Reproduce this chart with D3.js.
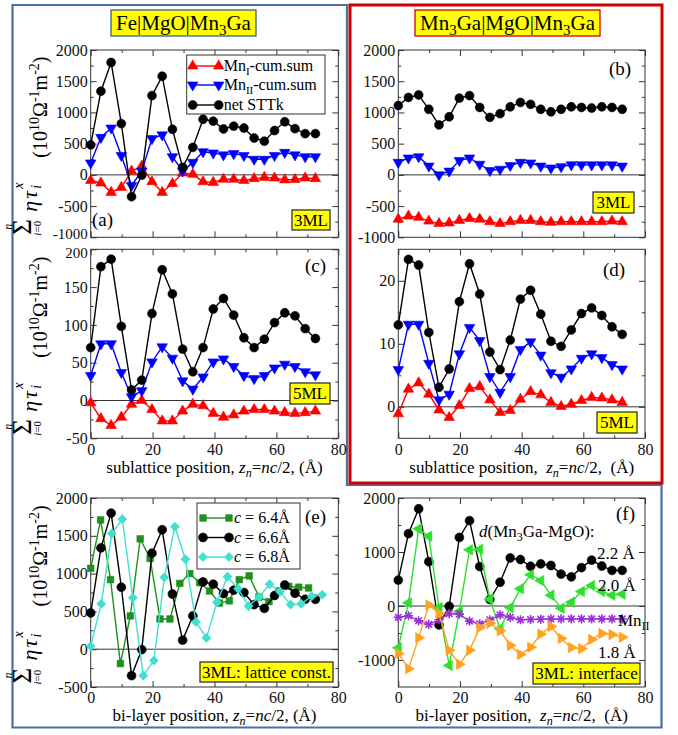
<!DOCTYPE html>
<html>
<head>
<meta charset="utf-8">
<script src="https://cdn.jsdelivr.net/npm/d3@7"></script>
<style>
  html, body { margin: 0; padding: 0; background: #fff; }
  #fig text { font-family: "Liberation Serif", "DejaVu Serif", serif !important; }
</style>
</head>
<body>
<svg id="fig" width="678" height="735"></svg>
<script>
// ---- layer positions z_n = n c / 2 (Å) ----
const zC66 = [0, 3.3, 6.6, 9.9, 13.2, 16.5, 19.8, 23.1, 26.4, 29.7, 33, 36.3, 39.6, 42.9, 46.2, 49.5, 52.8, 56.1, 59.4, 62.7, 66, 69.3, 72.6];
const zC64 = [0, 3.2, 6.4, 9.6, 12.8, 16, 19.2, 22.4, 25.6, 28.8, 32, 35.2, 38.4, 41.6, 44.8, 48, 51.2, 54.4, 57.6, 60.8, 64, 67.2, 70.4];
const zC68 = [0, 3.4, 6.8, 10.2, 13.6, 17, 20.4, 23.8, 27.2, 30.6, 34, 37.4, 40.8, 44.2, 47.6, 51, 54.4, 57.8, 61.2, 64.6, 68, 71.4, 74.8];

// ---- (a) Fe|MgO|Mn3Ga, 3ML ----
const mnI_a  = [-90, -130, -280, -200, 60, 140, -110, -280, -140, 30, 10, -110, -120, -70, -70, -90, -60, -40, -50, -80, -75, -50, -60];
const mnII_a = [190, 600, 750, 310, -170, 60, 580, 640, 290, 60, 200, 370, 350, 320, 340, 310, 250, 250, 310, 360, 320, 290, 290];
const net_a  = [480, 1340, 1800, 820, -350, -5, 1270, 1580, 730, 120, 440, 890, 860, 735, 780, 750, 590, 540, 710, 850, 740, 660, 660];

// ---- (b) Mn3Ga|MgO|Mn3Ga, 3ML ----
const mnI_b  = [-710, -660, -680, -740, -780, -770, -730, -700, -710, -750, -780, -750, -730, -730, -750, -760, -750, -750, -750, -750, -750, -740, -750];
const mnII_b = [200, 270, 290, 140, 0, 60, 230, 270, 170, 70, 90, 150, 200, 190, 140, 110, 130, 160, 160, 160, 160, 160, 140];
const net_b  = [1110, 1240, 1280, 1050, 800, 930, 1230, 1270, 1080, 920, 980, 1090, 1160, 1130, 1050, 1010, 1050, 1090, 1080, 1070, 1090, 1080, 1050];

// ---- (c) Fe|MgO|Mn3Ga, 5ML ----
const mnI_c  = [-3, -24, -33, -22, -5, 0, -12, -27, -27, -14, -5, -7, -17, -22, -19, -14, -12, -12, -14, -16, -17, -16, -14];
const mnII_c = [33, 75, 75, 37, 5, 13, 51, 71, 56, 26, 15, 31, 51, 55, 45, 33, 29, 33, 43, 48, 45, 38, 34];
const net_c  = [70, 177, 187, 98, 14, 27, 115, 173, 141, 68, 38, 70, 121, 135, 113, 83, 70, 81, 103, 116, 112, 95, 82];

// ---- (d) Mn3Ga|MgO|Mn3Ga, 5ML ----
const mnI_d  = [-1.1, 2.8, 3.8, 2.0, -0.5, -1.7, 0.2, 2.9, 3.2, 1.1, -0.9, -0.6, 1.2, 2.4, 1.9, 0.7, 0.05, 0.4, 1.0, 1.5, 1.4, 1.1, 0.7];
const mnII_d = [5.9, 13.1, 13.1, 6.9, 1.1, 2.0, 8.4, 12.6, 10.5, 4.8, 2.3, 4.8, 9.1, 10.3, 8.2, 5.4, 4.7, 6.0, 7.7, 8.4, 7.8, 6.7, 6.0];
const net_d  = [13, 23.4, 22.5, 11.8, 3.1, 6.0, 16.7, 22.7, 17.9, 8.7, 5.9, 10.6, 17.1, 18.5, 14.7, 10.4, 9.6, 12.2, 14.8, 15.7, 14.5, 12.7, 11.5];

// ---- (e) lattice constant c ----
const net_c64 = [1070, 1710, 920, -190, 440, 1460, 1200, 400, 400, 870, 1000, 880, 770, 610, 640, 920, 970, 690, 630, 770, 830, 820, 810];
const net_c68 = [40, 600, 1530, 1720, 680, -350, -150, 950, 1620, 1190, 360, 150, 620, 960, 800, 570, 690, 860, 760, 590, 600, 700, 720];

// ---- (f) interface distance d(Mn3Ga-MgO) ----
const net_d20 = [-775, 60, 1430, 1290, -30, -1100, -100, 1040, 1050, 125, -420, -30, 320, 580, 470, 200, -40, 70, 270, 380, 270, 200, 220];
const net_d18 = [-880, -1160, -590, 20, -140, -820, -1080, -820, -400, -320, -460, -730, -900, -765, -520, -380, -600, -770, -790, -620, -510, -530, -580];
const mnII_f  = [-210, -180, -275, -340, -255, -140, -150, -280, -330, -255, -165, -210, -255, -250, -245, -240, -240, -240, -240, -240, -240, -240, -240];

// ---- tick values ----
const xMajor = [0, 20, 40, 60, 80];
const xMinor = [10, 30, 50, 70];
const yMajor1000 = [-1000, -500, 0, 500, 1000, 1500, 2000];
const yMinor1000 = [-750, -250, 250, 750, 1250, 1750];
const yMajor50 = [-50, 0, 50, 100, 150, 200];
const yMinor50 = [-25, 25, 75, 125, 175];
const yMajor10 = [0, 10, 20];
const yMinor10 = [5, 15];
const yMajor500 = [-500, 0, 500, 1000, 1500, 2000];
const yMinor500 = [-250, 250, 750, 1250, 1750];
const yMajorF = [-1000, 0, 1000, 2000];
const yMinorF = [-500, 500, 1500];

// ---- colours ----
const RED = "#ff0000", BLUE = "#0000ff", BLACK = "#000000";
const DKGREEN = "#1f8f1f", TURQ = "#40e0d0", LIME = "#2ee02e", ORANGE = "#ffa21f", PURPLE = "#9b30d9";

const svg = d3.select("#fig");

// ---- frames around the two systems ----
svg.append("path")
  .attr("d", "M12.5,5 L347,5 L347,485 L661.5,485 L661.5,727.5 L12.5,727.5 Z")
  .attr("fill", "none").attr("stroke", "#4a6ea6").attr("stroke-width", 2.2);
svg.append("rect")
  .attr("x", 350).attr("y", 5).attr("width", 312).attr("height", 478)
  .attr("fill", "none").attr("stroke", "#d10000").attr("stroke-width", 3);

// rich text helper: parts = [{t, sub, sup, it}]
function rich(textSel, parts, base) {
  let shift = 0;
  parts.forEach(p => {
    const ts = textSel.append("tspan").text(p.t);
    let target = p.sub ? base * 0.25 : p.sup ? -base * 0.42 : 0;
    if (target - shift !== 0) ts.attr("dy", target - shift);
    shift = target;
    if (p.sub || p.sup) ts.attr("font-size", Math.round(base * 0.7));
    if (p.it) ts.attr("font-style", "italic");
  });
  return textSel;
}

function yellowBox(x, y, w, h, stroke, parts, fs) {
  svg.append("rect").attr("x", x).attr("y", y).attr("width", w).attr("height", h)
    .attr("fill", "#ffff00").attr("stroke", stroke).attr("stroke-width", 1.3);
  const t = svg.append("text").attr("x", x + w / 2).attr("y", y + h / 2 + fs * 0.34)
    .attr("text-anchor", "middle").attr("font-size", fs);
  rich(t, parts, fs);
}

// ---- headers ----
yellowBox(111, 10, 145, 26, "#3a5d92", [{t: "Fe|MgO|Mn"}, {t: "3", sub: true}, {t: "Ga"}], 21);
yellowBox(415, 10, 185, 26, "#d10000", [{t: "Mn"}, {t: "3", sub: true}, {t: "Ga|MgO|Mn"}, {t: "3", sub: true}, {t: "Ga"}], 21);

// ---- markers ----
function markerPath(type) {
  switch (type) {
    case "circle": return d3.symbol(d3.symbolCircle, 62)();
    case "up": case "down": case "left": case "right": return d3.symbol(d3.symbolTriangle, 48)();
    case "square": return d3.symbol(d3.symbolSquare, 44)();
    case "diamond": return d3.symbol(d3.symbolSquare, 42)();
    case "star": return "M-4.6,0H4.6M0,-4.6V4.6M-3.3,-3.3L3.3,3.3M-3.3,3.3L3.3,-3.3";
  }
}
const markerRot = {up: 0, down: 180, left: -90, right: 90, diamond: 45, circle: 0, square: 0, star: 0};

function drawMarkers(g, pts, type, color) {
  g.selectAll(null).data(pts).join("path")
    .attr("d", markerPath(type))
    .attr("transform", d => `translate(${d[0]},${d[1]}) rotate(${markerRot[type]})`)
    .attr("fill", type === "star" ? "none" : color)
    .attr("stroke", color)
    .attr("stroke-width", type === "star" ? 1.6 : 0.6);
}

// ---- one plot panel ----
function panel(o) {
  const g = svg.append("g");
  const x = d3.scaleLinear().domain([0, 80]).range([o.x0, o.x1]);
  const y = d3.scaleLinear().domain(o.yDomain).range([o.y1, o.y0]);

  // zero line
  g.append("line").attr("x1", o.x0).attr("x2", o.x1).attr("y1", y(0)).attr("y2", y(0))
    .attr("stroke", "#333").attr("stroke-width", 1);

  const fmt = d => (d < 0 ? "-" : "") + Math.abs(d);
  const axes = [
    [d3.axisBottom(x).tickValues(xMajor).tickSize(-6).tickPadding(5).tickFormat(o.xLabels ? fmt : ""), `translate(0,${o.y1})`],
    [d3.axisBottom(x).tickValues(xMinor).tickSize(-3).tickFormat(""), `translate(0,${o.y1})`],
    [d3.axisTop(x).tickValues(xMajor).tickSize(-6).tickFormat(""), `translate(0,${o.y0})`],
    [d3.axisTop(x).tickValues(xMinor).tickSize(-3).tickFormat(""), `translate(0,${o.y0})`],
    [d3.axisLeft(y).tickValues(o.yMajor).tickSize(-6).tickPadding(3).tickFormat(fmt), `translate(${o.x0},0)`],
    [d3.axisLeft(y).tickValues(o.yMinor).tickSize(-3).tickFormat(""), `translate(${o.x0},0)`],
    [d3.axisRight(y).tickValues(o.yMajor).tickSize(-6).tickFormat(""), `translate(${o.x1},0)`],
    [d3.axisRight(y).tickValues(o.yMinor).tickSize(-3).tickFormat(""), `translate(${o.x1},0)`]
  ];
  axes.forEach(([ax, tr], k) => {
    const a = g.append("g").attr("transform", tr).call(ax.tickSizeOuter(0));
    a.attr("font-family", null).attr("font-size", null);
    a.select(".domain").remove();
    a.selectAll("line").attr("stroke", "#333").attr("stroke-width", 1);
    a.selectAll("text").attr("font-size", 16).attr("fill", "#111");
    if (k === 4) {
      // stacked panels: keep the end labels of neighbouring y axes apart
      if (o.liftBottom) a.selectAll(".tick text").filter(d => d === o.yDomain[0]).attr("dy", "0.1em").attr("font-size", 15);
      if (o.dropTop) a.selectAll(".tick text").filter(d => d === o.yDomain[1]).attr("dy", "0.55em").attr("font-size", 15);
    }
  });

  // frame
  g.append("rect").attr("x", o.x0).attr("y", o.y0).attr("width", o.x1 - o.x0).attr("height", o.y1 - o.y0)
    .attr("fill", "none").attr("stroke", "#333").attr("stroke-width", 1);

  // series
  const line = d3.line().x(d => d[0]).y(d => d[1]);
  o.series.forEach(s => {
    const pts = s.z.map((z, i) => [x(z), y(s.v[i])]);
    g.append("path").attr("d", line(pts)).attr("fill", "none")
      .attr("stroke", s.color).attr("stroke-width", 1.4);
    drawMarkers(g, pts, s.marker, s.color);
  });
  return {x, y, g};
}

const L = {x0: 90.7, x1: 338.3};
const R = {x0: 398.3, x1: 645};
const R1 = {y0: 50, y1: 237.3};
const R2 = {y0: 249.3, y1: 438.3};
const R3 = {y0: 498, y1: 687};

panel({...L, ...R1, yDomain: [-1000, 2000], yMajor: yMajor1000, yMinor: yMinor1000, xLabels: false, liftBottom: true,
  series: [
    {z: zC66, v: mnI_a, color: RED, marker: "up"},
    {z: zC66, v: mnII_a, color: BLUE, marker: "down"},
    {z: zC66, v: net_a, color: BLACK, marker: "circle"}
  ]});
panel({...R, ...R1, yDomain: [-1000, 2000], yMajor: yMajor1000, yMinor: yMinor1000, xLabels: false,
  series: [
    {z: zC66, v: mnI_b, color: RED, marker: "up"},
    {z: zC66, v: mnII_b, color: BLUE, marker: "down"},
    {z: zC66, v: net_b, color: BLACK, marker: "circle"}
  ]});
panel({...L, ...R2, yDomain: [-50, 200], yMajor: yMajor50, yMinor: yMinor50, xLabels: true, dropTop: true,
  series: [
    {z: zC66, v: mnI_c, color: RED, marker: "up"},
    {z: zC66, v: mnII_c, color: BLUE, marker: "down"},
    {z: zC66, v: net_c, color: BLACK, marker: "circle"}
  ]});
panel({...R, ...R2, yDomain: [-5, 25], yMajor: yMajor10, yMinor: yMinor10, xLabels: true,
  series: [
    {z: zC66, v: mnI_d, color: RED, marker: "up"},
    {z: zC66, v: mnII_d, color: BLUE, marker: "down"},
    {z: zC66, v: net_d, color: BLACK, marker: "circle"}
  ]});
panel({...L, ...R3, yDomain: [-500, 2000], yMajor: yMajor500, yMinor: yMinor500, xLabels: true,
  series: [
    {z: zC64, v: net_c64, color: DKGREEN, marker: "square"},
    {z: zC66, v: net_a, color: BLACK, marker: "circle"},
    {z: zC68, v: net_c68, color: TURQ, marker: "diamond"}
  ]});
panel({...R, ...R3, yDomain: [-1500, 2000], yMajor: yMajorF, yMinor: yMinorF, xLabels: true,
  series: [
    {z: zC66, v: net_a, color: BLACK, marker: "circle"},
    {z: zC66, v: net_d20, color: LIME, marker: "left"},
    {z: zC66, v: mnII_f, color: PURPLE, marker: "star"},
    {z: zC66, v: net_d18, color: ORANGE, marker: "right"}
  ]});

// ---- panel letters ----
[["(a)", 92, 226], ["(b)", 609, 75], ["(c)", 305, 272], ["(d)", 603, 276], ["(e)", 305, 523], ["(f)", 616, 520]]
  .forEach(([s, x, y]) => svg.append("text").attr("x", x).attr("y", y).attr("font-size", 19).text(s));

// ---- yellow tags ----
yellowBox(292, 210, 38, 20, "#333", [{t: "3ML"}], 17);
yellowBox(593, 192, 41, 21, "#333", [{t: "3ML"}], 17);
yellowBox(290, 383, 40, 21, "#333", [{t: "5ML"}], 17);
yellowBox(597, 412, 40, 21, "#333", [{t: "5ML"}], 17);
yellowBox(200, 662, 133, 20, "#333", [{t: "3ML: lattice const."}], 17);
yellowBox(533, 663, 107, 21, "#333", [{t: "3ML: interface"}], 17);

// ---- legends ----
function legend(x, y, w, h, rows, fs) {
  svg.append("rect").attr("x", x).attr("y", y).attr("width", w).attr("height", h)
    .attr("fill", "#fff").attr("stroke", "#333").attr("stroke-width", 1);
  rows.forEach(r => {
    svg.append("line").attr("x1", x + 6).attr("x2", x + 32).attr("y1", r.y).attr("y2", r.y)
      .attr("stroke", r.color).attr("stroke-width", 1.4);
    const g = svg.append("g");
    drawMarkers(g, [[x + 6, r.y], [x + 32, r.y]], r.marker, r.color);
    const t = svg.append("text").attr("x", x + 37).attr("y", r.y + fs * 0.33).attr("font-size", fs);
    rich(t, r.parts, fs);
  });
}
legend(186.7, 55, 138.3, 59, [
  {y: 66, color: RED, marker: "up", parts: [{t: "Mn"}, {t: "I", sub: true}, {t: "-cum.sum"}]},
  {y: 85, color: BLUE, marker: "down", parts: [{t: "Mn"}, {t: "II", sub: true}, {t: "-cum.sum"}]},
  {y: 105, color: BLACK, marker: "circle", parts: [{t: "net STTk"}]}
], 16);
legend(197, 503, 103, 66, [
  {y: 518, color: DKGREEN, marker: "square", parts: [{t: "c", it: true}, {t: " = 6.4Å"}]},
  {y: 537.5, color: BLACK, marker: "circle", parts: [{t: "c", it: true}, {t: " = 6.6Å"}]},
  {y: 557, color: TURQ, marker: "diamond", parts: [{t: "c", it: true}, {t: " = 6.8Å"}]}
], 16);

// ---- (f) annotations ----
function note(x, y, parts, fs) {
  const t = svg.append("text").attr("x", x).attr("y", y).attr("font-size", fs);
  rich(t, parts, fs);
}
note(479, 537, [{t: "d", it: true}, {t: "(Mn"}, {t: "3", sub: true}, {t: "Ga-MgO):"}], 17);
note(597, 559, [{t: "2.2 Å"}], 17);
note(598, 591, [{t: "2.0 Å"}], 17);
note(618, 626, [{t: "Mn"}, {t: "II", sub: true}], 17);
note(598, 658, [{t: "1.8 Å"}], 17);

// ---- x-axis titles ----
function xTitle(cx, y, word, gap) {
  const t = svg.append("text").attr("x", cx).attr("y", y).attr("text-anchor", "middle").attr("font-size", 17)
    .style("white-space", "pre");
  rich(t, [{t: word + " position," + gap}, {t: "z", it: true}, {t: "n", sub: true, it: true},
           {t: "="}, {t: "nc", it: true}, {t: "/2," + gap + "(Å)"}], 17);
}
xTitle(214.5, 473, "sublattice", " ");
xTitle(521.7, 473, "sublattice", "  ");
xTitle(214.5, 721, "bi-layer", " ");
xTitle(521.7, 721, "bi-layer", "  ");

// ---- y-axis titles (rotated) ----
function yTitle(cy) {
  const g = svg.append("g").attr("transform", "rotate(-90)");
  const put = (sy, sx, str, fs, it) => g.append("text")
    .attr("x", -sy).attr("y", sx).attr("font-size", fs)
    .attr("font-style", it ? "italic" : null).text(str);
  put(cy + 91, 31, "Σ", 27, false);
  put(cy + 86, 12, "n", 12, true);
  const lim = g.append("text").attr("x", -(cy + 92)).attr("y", 41).attr("font-size", 11);
  rich(lim, [{t: "i", it: true}, {t: "=0"}], 11);
  put(cy + 68, 37, "η", 22, true);
  put(cy + 55, 37, "τ", 22, true);
  put(cy + 45, 41, "i", 14, true);
  put(cy + 45, 23, "x", 14, true);
  const u = g.append("text").attr("x", -(cy + 14)).attr("y", 47).attr("font-size", 20);
  rich(u, [{t: "(10"}, {t: "10", sup: true}, {t: "Ω"}, {t: "-1", sup: true}, {t: "m"}, {t: "-2", sup: true}, {t: ")"}], 20);
}
yTitle((R1.y0 + R1.y1) / 2);
yTitle((R2.y0 + R2.y1) / 2);
yTitle((R3.y0 + R3.y1) / 2);
</script>
</body>
</html>
